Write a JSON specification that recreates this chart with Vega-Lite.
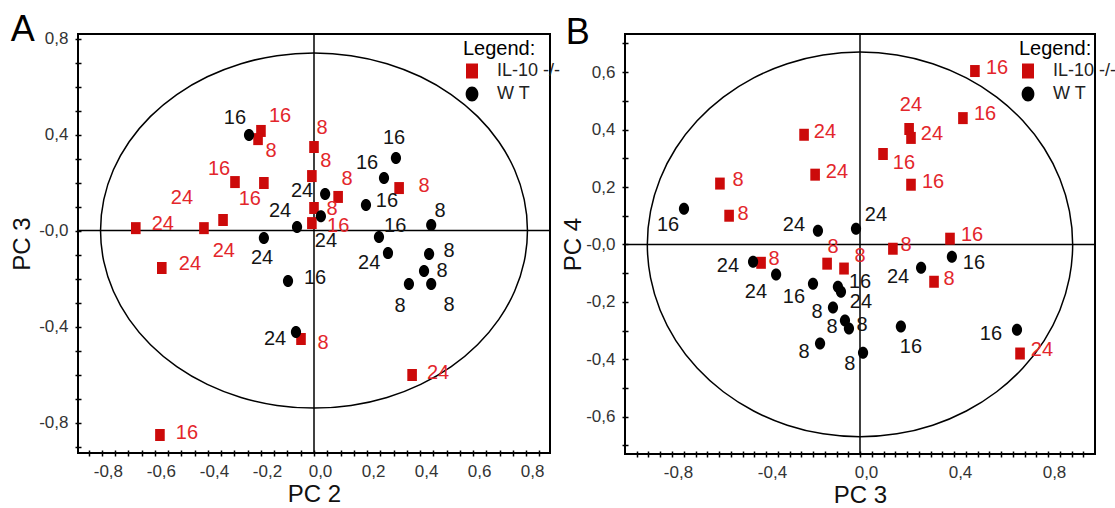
{
  "$schema": "https://vega.github.io/schema/vega-lite/v6.json",
  "background": "white",
  "padding": {"left": 9, "top": 10, "right": 0, "bottom": 0},
  "datasets": {
    "ptsA": [
      {"g": "IL-10 -/-", "x": -0.672, "y": 0.010, "t": "24", "lx": -0.570, "ly": 0.027},
      {"g": "IL-10 -/-", "x": -0.415, "y": 0.010, "t": "24", "lx": -0.498, "ly": 0.135},
      {"g": "IL-10 -/-", "x": -0.343, "y": 0.044, "t": "24", "lx": -0.340, "ly": -0.085},
      {"g": "IL-10 -/-", "x": -0.574, "y": -0.156, "t": "24", "lx": -0.468, "ly": -0.140},
      {"g": "IL-10 -/-", "x": -0.298, "y": 0.202, "t": "16", "lx": -0.358, "ly": 0.256},
      {"g": "IL-10 -/-", "x": -0.189, "y": 0.198, "t": "16", "lx": -0.242, "ly": 0.131},
      {"g": "IL-10 -/-", "x": -0.200, "y": 0.415, "t": "16", "lx": -0.128, "ly": 0.477},
      {"g": "IL-10 -/-", "x": -0.211, "y": 0.381, "t": "8", "lx": -0.162, "ly": 0.331},
      {"g": "IL-10 -/-", "x": 0.000, "y": 0.348, "t": "8", "lx": 0.030, "ly": 0.427},
      {"g": "IL-10 -/-", "x": -0.008, "y": 0.227, "t": "8", "lx": 0.045, "ly": 0.290},
      {"g": "IL-10 -/-", "x": 0.000, "y": 0.094, "t": "8", "lx": 0.068, "ly": 0.090},
      {"g": "IL-10 -/-", "x": -0.008, "y": 0.031, "t": "16", "lx": 0.091, "ly": 0.019},
      {"g": "IL-10 -/-", "x": 0.091, "y": 0.140, "t": "8", "lx": 0.125, "ly": 0.215},
      {"g": "IL-10 -/-", "x": 0.321, "y": 0.177, "t": "8", "lx": 0.415, "ly": 0.185},
      {"g": "IL-10 -/-", "x": -0.049, "y": -0.452, "t": "8", "lx": 0.034, "ly": -0.469},
      {"g": "IL-10 -/-", "x": 0.370, "y": -0.602, "t": "24", "lx": 0.468, "ly": -0.594},
      {"g": "IL-10 -/-", "x": -0.581, "y": -0.852, "t": "16", "lx": -0.479, "ly": -0.844},
      {"g": "W T", "x": -0.245, "y": 0.398, "t": "16", "lx": -0.298, "ly": 0.469},
      {"g": "W T", "x": -0.064, "y": 0.015, "t": "24", "lx": -0.128, "ly": 0.081},
      {"g": "W T", "x": -0.189, "y": -0.031, "t": "24", "lx": -0.196, "ly": -0.115},
      {"g": "W T", "x": 0.042, "y": 0.152, "t": "24", "lx": -0.045, "ly": 0.165},
      {"g": "W T", "x": 0.026, "y": 0.060, "t": "24", "lx": 0.045, "ly": -0.044},
      {"g": "W T", "x": -0.098, "y": -0.210, "t": "16", "lx": 0.004, "ly": -0.198},
      {"g": "W T", "x": -0.068, "y": -0.423, "t": "24", "lx": -0.147, "ly": -0.452},
      {"g": "W T", "x": 0.309, "y": 0.302, "t": "16", "lx": 0.302, "ly": 0.385},
      {"g": "W T", "x": 0.264, "y": 0.219, "t": "16", "lx": 0.200, "ly": 0.281},
      {"g": "W T", "x": 0.196, "y": 0.106, "t": "16", "lx": 0.275, "ly": 0.123},
      {"g": "W T", "x": 0.442, "y": 0.023, "t": "8", "lx": 0.475, "ly": 0.081},
      {"g": "W T", "x": 0.245, "y": -0.027, "t": "16", "lx": 0.306, "ly": 0.019},
      {"g": "W T", "x": 0.279, "y": -0.094, "t": "24", "lx": 0.208, "ly": -0.135},
      {"g": "W T", "x": 0.434, "y": -0.098, "t": "8", "lx": 0.509, "ly": -0.085},
      {"g": "W T", "x": 0.415, "y": -0.169, "t": "8", "lx": 0.483, "ly": -0.169},
      {"g": "W T", "x": 0.358, "y": -0.223, "t": "8", "lx": 0.325, "ly": -0.315},
      {"g": "W T", "x": 0.442, "y": -0.223, "t": "8", "lx": 0.509, "ly": -0.310}
    ],
    "ptsB": [
      {"g": "IL-10 -/-", "x": 0.489, "y": 0.604, "t": "16", "lx": 0.583, "ly": 0.615},
      {"g": "IL-10 -/-", "x": 0.438, "y": 0.440, "t": "16", "lx": 0.532, "ly": 0.455},
      {"g": "IL-10 -/-", "x": -0.238, "y": 0.382, "t": "24", "lx": -0.149, "ly": 0.392},
      {"g": "IL-10 -/-", "x": -0.191, "y": 0.243, "t": "24", "lx": -0.098, "ly": 0.253},
      {"g": "IL-10 -/-", "x": -0.596, "y": 0.212, "t": "8", "lx": -0.519, "ly": 0.225},
      {"g": "IL-10 -/-", "x": -0.557, "y": 0.100, "t": "8", "lx": -0.498, "ly": 0.107},
      {"g": "IL-10 -/-", "x": 0.209, "y": 0.402, "t": "24", "lx": 0.217, "ly": 0.486},
      {"g": "IL-10 -/-", "x": 0.217, "y": 0.371, "t": "24", "lx": 0.306, "ly": 0.385},
      {"g": "IL-10 -/-", "x": 0.098, "y": 0.315, "t": "16", "lx": 0.187, "ly": 0.284},
      {"g": "IL-10 -/-", "x": 0.217, "y": 0.208, "t": "16", "lx": 0.311, "ly": 0.218},
      {"g": "IL-10 -/-", "x": 0.383, "y": 0.020, "t": "16", "lx": 0.477, "ly": 0.034},
      {"g": "IL-10 -/-", "x": 0.140, "y": -0.015, "t": "8", "lx": 0.196, "ly": -0.001},
      {"g": "IL-10 -/-", "x": -0.421, "y": -0.064, "t": "8", "lx": -0.366, "ly": -0.050},
      {"g": "IL-10 -/-", "x": -0.140, "y": -0.067, "t": "8", "lx": -0.115, "ly": -0.008},
      {"g": "IL-10 -/-", "x": -0.068, "y": -0.084, "t": "8", "lx": 0.000, "ly": -0.039},
      {"g": "IL-10 -/-", "x": 0.315, "y": -0.130, "t": "8", "lx": 0.379, "ly": -0.119},
      {"g": "IL-10 -/-", "x": 0.681, "y": -0.380, "t": "24", "lx": 0.774, "ly": -0.366},
      {"g": "W T", "x": -0.749, "y": 0.124, "t": "16", "lx": -0.817, "ly": 0.069},
      {"g": "W T", "x": -0.179, "y": 0.048, "t": "24", "lx": -0.281, "ly": 0.069},
      {"g": "W T", "x": -0.017, "y": 0.055, "t": "24", "lx": 0.068, "ly": 0.103},
      {"g": "W T", "x": -0.455, "y": -0.060, "t": "24", "lx": -0.562, "ly": -0.074},
      {"g": "W T", "x": -0.357, "y": -0.105, "t": "24", "lx": -0.443, "ly": -0.165},
      {"g": "W T", "x": -0.200, "y": -0.137, "t": "16", "lx": -0.281, "ly": -0.182},
      {"g": "W T", "x": -0.094, "y": -0.147, "t": "16", "lx": 0.000, "ly": -0.130},
      {"g": "W T", "x": -0.081, "y": -0.165, "t": "24", "lx": 0.004, "ly": -0.199},
      {"g": "W T", "x": -0.115, "y": -0.220, "t": "8", "lx": -0.183, "ly": -0.234},
      {"g": "W T", "x": -0.064, "y": -0.265, "t": "8", "lx": -0.119, "ly": -0.286},
      {"g": "W T", "x": -0.047, "y": -0.293, "t": "8", "lx": 0.009, "ly": -0.279},
      {"g": "W T", "x": -0.170, "y": -0.345, "t": "8", "lx": -0.238, "ly": -0.373},
      {"g": "W T", "x": 0.013, "y": -0.377, "t": "8", "lx": -0.043, "ly": -0.418},
      {"g": "W T", "x": 0.174, "y": -0.286, "t": "16", "lx": 0.217, "ly": -0.359},
      {"g": "W T", "x": 0.260, "y": -0.081, "t": "24", "lx": 0.162, "ly": -0.112},
      {"g": "W T", "x": 0.391, "y": -0.043, "t": "16", "lx": 0.485, "ly": -0.064},
      {"g": "W T", "x": 0.668, "y": -0.297, "t": "16", "lx": 0.557, "ly": -0.311}
    ],
    "ellA": [
      {"i": 0, "x": 0.805, "y": 0}, {"i": 1, "x": 0.7928, "y": 0.1285}, {"i": 2, "x": 0.7565, "y": 0.2531},
      {"i": 3, "x": 0.6971, "y": 0.37}, {"i": 4, "x": 0.6166, "y": 0.4757}, {"i": 5, "x": 0.5175, "y": 0.5668},
      {"i": 6, "x": 0.4025, "y": 0.6408}, {"i": 7, "x": 0.2753, "y": 0.6954}, {"i": 8, "x": 0.1397, "y": 0.7288},
      {"i": 9, "x": 0, "y": 0.74}, {"i": 10, "x": -0.1397, "y": 0.7288}, {"i": 11, "x": -0.2753, "y": 0.6954},
      {"i": 12, "x": -0.4025, "y": 0.6408}, {"i": 13, "x": -0.5175, "y": 0.5668}, {"i": 14, "x": -0.6166, "y": 0.4757},
      {"i": 15, "x": -0.6971, "y": 0.37}, {"i": 16, "x": -0.7565, "y": 0.2531}, {"i": 17, "x": -0.7928, "y": 0.1285},
      {"i": 18, "x": -0.805, "y": 0}, {"i": 19, "x": -0.7928, "y": -0.1285}, {"i": 20, "x": -0.7565, "y": -0.2531},
      {"i": 21, "x": -0.6971, "y": -0.37}, {"i": 22, "x": -0.6166, "y": -0.4757}, {"i": 23, "x": -0.5175, "y": -0.5668},
      {"i": 24, "x": -0.4025, "y": -0.6408}, {"i": 25, "x": -0.2753, "y": -0.6954}, {"i": 26, "x": -0.1397, "y": -0.7288},
      {"i": 27, "x": 0, "y": -0.74}, {"i": 28, "x": 0.1397, "y": -0.7288}, {"i": 29, "x": 0.2753, "y": -0.6954},
      {"i": 30, "x": 0.4025, "y": -0.6408}, {"i": 31, "x": 0.5175, "y": -0.5668}, {"i": 32, "x": 0.6166, "y": -0.4757},
      {"i": 33, "x": 0.6971, "y": -0.37}, {"i": 34, "x": 0.7565, "y": -0.2531}, {"i": 35, "x": 0.7928, "y": -0.1285}
    ],
    "ellB": [
      {"i": 0, "x": 0.905, "y": 0}, {"i": 1, "x": 0.8912, "y": 0.1163}, {"i": 2, "x": 0.8504, "y": 0.2291},
      {"i": 3, "x": 0.7837, "y": 0.335}, {"i": 4, "x": 0.6932, "y": 0.4307}, {"i": 5, "x": 0.5817, "y": 0.5132},
      {"i": 6, "x": 0.4525, "y": 0.5802}, {"i": 7, "x": 0.3095, "y": 0.6296}, {"i": 8, "x": 0.1571, "y": 0.6598},
      {"i": 9, "x": 0, "y": 0.67}, {"i": 10, "x": -0.1571, "y": 0.6598}, {"i": 11, "x": -0.3095, "y": 0.6296},
      {"i": 12, "x": -0.4525, "y": 0.5802}, {"i": 13, "x": -0.5817, "y": 0.5132}, {"i": 14, "x": -0.6932, "y": 0.4307},
      {"i": 15, "x": -0.7837, "y": 0.335}, {"i": 16, "x": -0.8504, "y": 0.2291}, {"i": 17, "x": -0.8912, "y": 0.1163},
      {"i": 18, "x": -0.905, "y": 0}, {"i": 19, "x": -0.8912, "y": -0.1163}, {"i": 20, "x": -0.8504, "y": -0.2291},
      {"i": 21, "x": -0.7837, "y": -0.335}, {"i": 22, "x": -0.6932, "y": -0.4307}, {"i": 23, "x": -0.5817, "y": -0.5132},
      {"i": 24, "x": -0.4525, "y": -0.5802}, {"i": 25, "x": -0.3095, "y": -0.6296}, {"i": 26, "x": -0.1571, "y": -0.6598},
      {"i": 27, "x": 0, "y": -0.67}, {"i": 28, "x": 0.1571, "y": -0.6598}, {"i": 29, "x": 0.3095, "y": -0.6296},
      {"i": 30, "x": 0.4525, "y": -0.5802}, {"i": 31, "x": 0.5817, "y": -0.5132}, {"i": 32, "x": 0.6932, "y": -0.4307},
      {"i": 33, "x": 0.7837, "y": -0.335}, {"i": 34, "x": 0.8504, "y": -0.2291}, {"i": 35, "x": 0.8912, "y": -0.1163}
    ]
  },
  "hconcat": [
    {
      "title": {"text": "A", "anchor": "start", "frame": "bounds", "fontSize": 36, "fontWeight": "normal", "font": "Liberation Sans", "color": "black", "baseline": "alphabetic", "offset": -47},
      "width": 472,
      "height": 419,
      "layer": [
        {
          "data": {"name": "ellA"},
          "mark": {"type": "line", "color": "black", "strokeWidth": 1.5, "interpolate": "cardinal-closed"},
          "encoding": {
            "x": {"field": "x", "type": "quantitative",
              "scale": {"domain": [-0.89, 0.89], "nice": false, "zero": false},
              "axis": {"title": "PC 2", "tickCount": 200, "values": [-0.85,-0.8,-0.75,-0.7,-0.65,-0.6,-0.55,-0.5,-0.45,-0.4,-0.35,-0.3,-0.25,-0.2,-0.15,-0.1,-0.05,0,0.05,0.1,0.15,0.2,0.25,0.3,0.35,0.4,0.45,0.5,0.55,0.6,0.65,0.7,0.75,0.8,0.85],
                "labelExpr": "abs(datum.value*5-round(datum.value*5))<0.001 ? (datum.value<0?'-':'')+replace(format(abs(datum.value),'.1f'),'.',',') : ''",
                "labelOffset": 6}},
            "y": {"field": "y", "type": "quantitative",
              "scale": {"domain": [-0.927, 0.819], "nice": false, "zero": false},
              "axis": {"title": "PC 3", "tickCount": 200, "values": [-0.9,-0.8,-0.7,-0.6,-0.5,-0.4,-0.3,-0.2,-0.1,0,0.1,0.2,0.3,0.4,0.5,0.6,0.7,0.8],
                "labelExpr": "abs(datum.value*2.5-round(datum.value*2.5))<0.001 ? (datum.value<=0?'-':'')+replace(format(abs(datum.value),'.1f'),'.',',') : ''",
                "titlePadding": 4}},
            "order": {"field": "i", "type": "quantitative"}
          }
        },
        {"data": {"values": [{}]}, "mark": {"type": "rule", "color": "black", "strokeWidth": 1.5}, "encoding": {"x": {"datum": 0, "type": "quantitative"}}},
        {"data": {"values": [{}]}, "mark": {"type": "rule", "color": "black", "strokeWidth": 1.5}, "encoding": {"y": {"datum": 0, "type": "quantitative"}}},
        {
          "data": {"name": "ptsA"},
          "mark": {"type": "point", "filled": true, "opacity": 1, "size": 144},
          "encoding": {
            "x": {"field": "x", "type": "quantitative"},
            "y": {"field": "y", "type": "quantitative"},
            "color": {"field": "g", "type": "nominal", "scale": {"domain": ["IL-10 -/-", "W T"], "range": ["#cc0a0a", "#000000"]},
              "legend": {"title": "Legend:", "orient": "none", "legendX": 385, "legendY": 5}},
            "shape": {"field": "g", "type": "nominal", "scale": {"domain": ["IL-10 -/-", "W T"], "range": ["M-0.8,-1H0.8V1H-0.8Z", "M0,-1A0.85,1,0,1,1,0,1A0.85,1,0,1,1,0,-1Z"]},
              "legend": {"title": "Legend:", "orient": "none", "legendX": 385, "legendY": 5}}
          }
        },
        {
          "data": {"name": "ptsA"},
          "mark": {"type": "text", "font": "Liberation Sans", "fontSize": 20, "align": "center", "baseline": "middle"},
          "encoding": {
            "x": {"field": "lx", "type": "quantitative"},
            "y": {"field": "ly", "type": "quantitative"},
            "text": {"field": "t"},
            "color": {"condition": {"test": "datum.g == 'IL-10 -/-'", "value": "#e3262b"}, "value": "#141414"}
          }
        }
      ]
    },
    {
      "title": {"text": "B", "anchor": "start", "frame": "bounds", "fontSize": 36, "fontWeight": "normal", "font": "Liberation Sans", "color": "black", "baseline": "alphabetic", "offset": -47, "dx": 4},
      "width": 470,
      "height": 420,
      "layer": [
        {
          "data": {"name": "ellB"},
          "mark": {"type": "line", "color": "black", "strokeWidth": 1.5, "interpolate": "cardinal-closed"},
          "encoding": {
            "x": {"field": "x", "type": "quantitative",
              "scale": {"domain": [-1.0, 1.0], "nice": false, "zero": false},
              "axis": {"title": "PC 3", "tickCount": 200, "values": [-0.95,-0.9,-0.85,-0.8,-0.75,-0.7,-0.65,-0.6,-0.55,-0.5,-0.45,-0.4,-0.35,-0.3,-0.25,-0.2,-0.15,-0.1,-0.05,0,0.05,0.1,0.15,0.2,0.25,0.3,0.35,0.4,0.45,0.5,0.55,0.6,0.65,0.7,0.75,0.8,0.85,0.9,0.95],
                "labelExpr": "abs(datum.value*2.5-round(datum.value*2.5))<0.001 ? (datum.value<0?'-':'')+replace(format(abs(datum.value),'.1f'),'.',',') : ''",
                "labelOffset": 6}},
            "y": {"field": "y", "type": "quantitative",
              "scale": {"domain": [-0.73, 0.733], "nice": false, "zero": false},
              "axis": {"title": "PC 4", "tickCount": 200, "values": [-0.7,-0.6,-0.5,-0.4,-0.3,-0.2,-0.1,0,0.1,0.2,0.3,0.4,0.5,0.6,0.7],
                "labelExpr": "abs(datum.value*5-round(datum.value*5))<0.001 ? (datum.value<=0?'-':'')+replace(format(abs(datum.value),'.1f'),'.',',') : ''",
                "titlePadding": 0}},
            "order": {"field": "i", "type": "quantitative"}
          }
        },
        {"data": {"values": [{}]}, "mark": {"type": "rule", "color": "black", "strokeWidth": 1.5}, "encoding": {"x": {"datum": 0, "type": "quantitative"}}},
        {"data": {"values": [{}]}, "mark": {"type": "rule", "color": "black", "strokeWidth": 1.5}, "encoding": {"y": {"datum": 0, "type": "quantitative"}}},
        {
          "data": {"name": "ptsB"},
          "mark": {"type": "point", "filled": true, "opacity": 1, "size": 144},
          "encoding": {
            "x": {"field": "x", "type": "quantitative"},
            "y": {"field": "y", "type": "quantitative"},
            "color": {"field": "g", "type": "nominal", "scale": {"domain": ["IL-10 -/-", "W T"], "range": ["#cc0a0a", "#000000"]},
              "legend": {"title": "Legend:", "orient": "none", "legendX": 394, "legendY": 5}},
            "shape": {"field": "g", "type": "nominal", "scale": {"domain": ["IL-10 -/-", "W T"], "range": ["M-0.8,-1H0.8V1H-0.8Z", "M0,-1A0.85,1,0,1,1,0,1A0.85,1,0,1,1,0,-1Z"]},
              "legend": {"title": "Legend:", "orient": "none", "legendX": 394, "legendY": 5}}
          }
        },
        {
          "data": {"name": "ptsB"},
          "mark": {"type": "text", "font": "Liberation Sans", "fontSize": 20, "align": "center", "baseline": "middle"},
          "encoding": {
            "x": {"field": "lx", "type": "quantitative"},
            "y": {"field": "ly", "type": "quantitative"},
            "text": {"field": "t"},
            "color": {"condition": {"test": "datum.g == 'IL-10 -/-'", "value": "#e3262b"}, "value": "#141414"}
          }
        }
      ]
    }
  ],
  "spacing": -2,
  "resolve": {"scale": {"color": "independent", "shape": "independent"}, "legend": {"color": "independent", "shape": "independent"}},
  "config": {
    "view": {"stroke": "black", "strokeWidth": 2},
    "font": "Liberation Sans",
    "axis": {
      "grid": false, "domain": false,
      "tickSize": 6, "offset": -3, "tickColor": "black", "tickWidth": 1.5,
      "labelFont": "Liberation Sans", "labelFontSize": 17, "labelColor": "#333333", "labelPadding": 7,
      "labelOverlap": false, "labelFlush": false,
      "titleFont": "Liberation Sans", "titleFontSize": 24, "titleFontWeight": "normal", "titleColor": "#111111", "titlePadding": 3
    },
    "legend": {
      "padding": 0,
      "titleFont": "Liberation Sans", "titleFontSize": 20, "titleFontWeight": "normal", "titleColor": "black", "titlePadding": 3,
      "labelFont": "Liberation Sans", "labelFontSize": 18, "labelColor": "#222222", "labelOffset": 16,
      "symbolSize": 225, "symbolStrokeWidth": 0, "symbolOpacity": 1, "rowPadding": 5
    }
  }
}
